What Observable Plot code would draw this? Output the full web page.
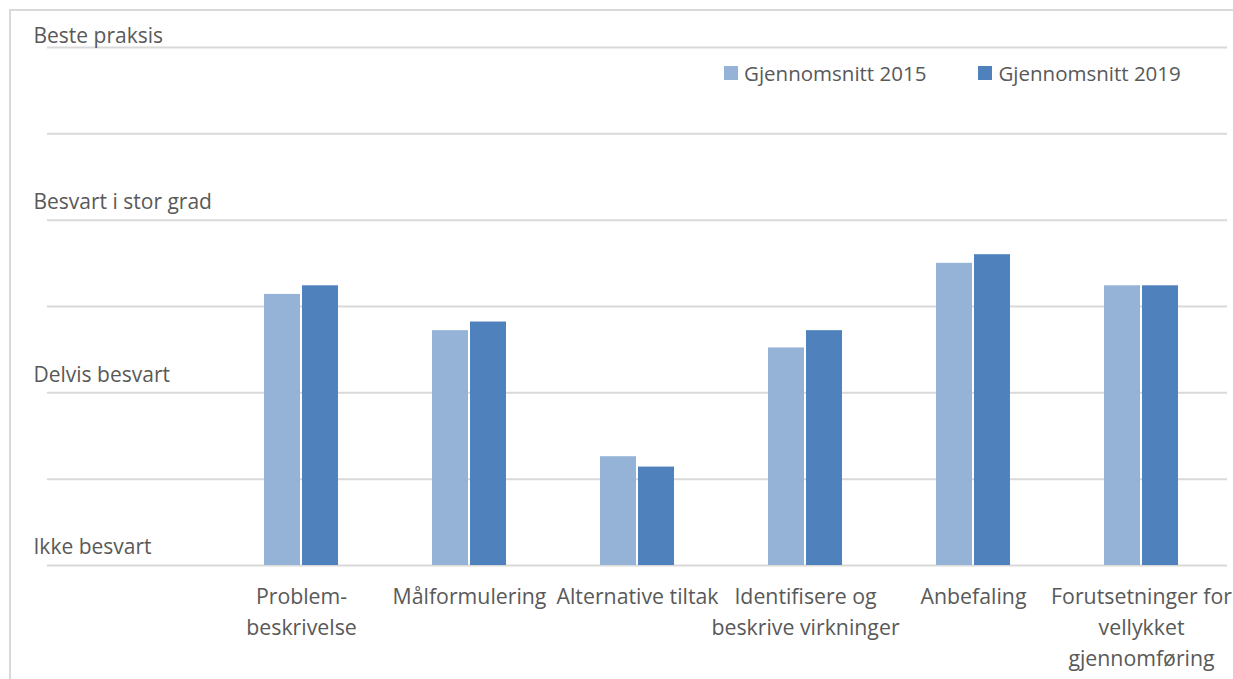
<!DOCTYPE html>
<html>
<head>
<meta charset="utf-8">
<script src="https://cdn.jsdelivr.net/npm/d3@7"></script>
<script src="https://cdn.jsdelivr.net/npm/@observablehq/plot@0.6"></script>
<style>
  html, body { margin: 0; padding: 0; background: #fff; }
  #wrap { position: relative; width: 1233px; height: 679px; overflow: hidden; font-family: "Open Sans", sans-serif; color: #595959; }
  #border { position: absolute; left: 9px; top: 9px; right: -5px; bottom: -5px; border-left: 2px solid #D9D9D9; border-top: 2px solid #D9D9D9; }
  #legend { position: absolute; top: 59px; left: 724px; width: 520px; display: flex; white-space: nowrap; font-size: 20.5px; color: #595959; }
  .item { display: flex; align-items: center; flex: none; white-space: nowrap; }
  .item + .item { margin-left: 52px; }
  .sw { width: 14px; height: 14px; margin-right: 6px; flex: none; }
  #chart { position: absolute; left: 0; top: 0; }
</style>
</head>
<body>
<div id="wrap">
  <div id="border"></div>
  <div id="chart"></div>
  <div id="legend"></div>
</div>
<script>
const categories = ["Problembeskrivelse", "Målformulering", "Alternative tiltak", "Identifisere og beskrive virkninger", "Anbefaling", "Forutsetninger for vellykket gjennomføring"];
const categoryLabels = ["Problem-\nbeskrivelse", "Målformulering", "Alternative tiltak", "Identifisere og\nbeskrive virkninger", "Anbefaling", "Forutsetninger for\nvellykket\ngjennomføring"];
const series = ["Gjennomsnitt 2015", "Gjennomsnitt 2019"];
const values2015 = [2.57, 2.36, 1.63, 2.26, 2.75, 2.62];
const values2019 = [2.62, 2.41, 1.57, 2.36, 2.80, 2.62];
const yLevels = [1, 1.5, 2, 2.5, 3, 3.5, 4];
const yLabelValues = [1, 2, 3, 4];
const yLabels = ["Ikke besvart", "Delvis besvart", "Besvart i stor grad", "Beste praksis"];
const colors = ["#95B3D7", "#4F81BD"];

const data = [];
categories.forEach((c, i) => {
  data.push({category: c, series: series[0], value: values2015[i]});
  data.push({category: c, series: series[1], value: values2019[i]});
});
const labelMap = new Map(categories.map((c, i) => [c, categoryLabels[i]]));
const yLabelData = yLabelValues.map((v, i) => ({value: v, label: yLabels[i]}));
const yMax = d3.max(yLabelValues);
const font = "Open Sans, sans-serif";
const xDomain = [""].concat(categories);

const labelStyle = {y: "value", text: "label", frameAnchor: "left", textAnchor: "start", dx: -14, fontSize: 21, fill: "#595959"};

const chart = Plot.plot({
  width: 1233,
  height: 679,
  marginTop: 47,
  marginBottom: 114,
  marginLeft: 47,
  marginRight: 6,
  style: {fontFamily: font, fontSize: "21px", color: "#595959", background: "transparent"},
  x: {domain: xDomain, paddingInner: 0.561, paddingOuter: 0.2805, axis: null},
  y: {domain: [1, 4], axis: null},
  marks: [
    Plot.ruleY(yLevels, {stroke: "#D9D9D9", strokeWidth: 2}),
    Plot.barY(data.filter(d => d.series === series[0]), {x: "category", y1: 1, y2: "value", fill: colors[0], insetRight: 38}),
    Plot.barY(data.filter(d => d.series === series[1]), {x: "category", y1: 1, y2: "value", fill: colors[1], insetLeft: 38}),
    Plot.axisX({tickSize: 0, tickPadding: 17, tickFormat: d => labelMap.get(d) || "", fontSize: 21.3, fill: "#595959", lineHeight: 1.44, label: null}),
    Plot.text(yLabelData.filter(d => d.value < yMax), {...labelStyle, dy: -18}),
    Plot.text(yLabelData.filter(d => d.value === yMax), {...labelStyle, dy: -11})
  ]
});
document.getElementById("chart").appendChild(chart);

const legend = document.getElementById("legend");
series.forEach((s, i) => {
  const item = document.createElement("div");
  item.className = "item";
  const sw = document.createElement("span");
  sw.className = "sw";
  sw.style.background = colors[i];
  const t = document.createElement("span");
  t.textContent = s;
  item.appendChild(sw);
  item.appendChild(t);
  legend.appendChild(item);
});
</script>
</body>
</html>
